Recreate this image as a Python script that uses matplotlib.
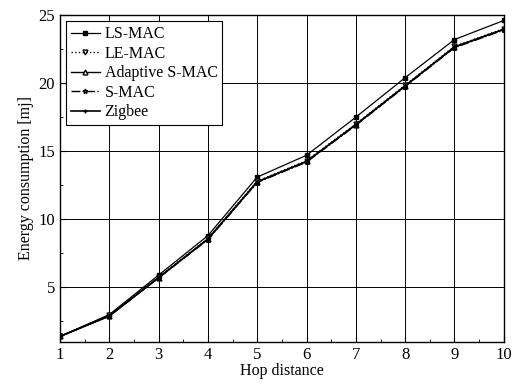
import numpy as np
import matplotlib.pyplot as plt
from matplotlib.ticker import MultipleLocator

plt.rcParams['font.family'] = ['Liberation Serif', 'DejaVu Serif']

hops = [1, 2, 3, 4, 5, 6, 7, 8, 9, 10]
ls_mac = [1.4, 3.0, 5.9, 8.8, 13.1, 14.7, 17.5, 20.4, 23.2, 24.6]
le_mac = [1.4, 2.95, 5.75, 8.6, 12.8, 14.3, 17.0, 19.85, 22.7, 24.0]
adaptive_smac = [1.4, 2.9, 5.7, 8.55, 12.75, 14.25, 16.95, 19.8, 22.65, 23.95]
s_mac = [1.4, 2.9, 5.7, 8.5, 12.7, 14.2, 16.9, 19.75, 22.6, 23.9]
zigbee = [1.4, 2.9, 5.72, 8.55, 12.75, 14.25, 16.95, 19.8, 22.65, 23.95]

fig = plt.figure(figsize=(5.12, 3.85), dpi=100)
ax = fig.add_axes([0.117, 0.112, 0.867, 0.849])

ax.plot(hops, ls_mac, '-', color='black', lw=0.9, marker='s', ms=3.5, mfc='black', label='LS-MAC')
ax.plot(hops, le_mac, ':', color='black', lw=1.0, marker='v', ms=3.5, mfc='white', label='LE-MAC')
ax.plot(hops, adaptive_smac, '-', color='black', lw=1.0, marker='^', ms=3.5, mfc='white', label='Adaptive S-MAC')
ax.plot(hops, s_mac, '-.', color='black', lw=1.0, marker='*', ms=3.5, mfc='white', label='S-MAC')
ax.plot(hops, zigbee, '-', color='black', lw=1.2, marker='+', ms=3.5, label='Zigbee')

ax.set_xlim(1, 10)
ax.set_ylim(1, 25)
ax.xaxis.set_major_locator(MultipleLocator(1))
ax.xaxis.set_minor_locator(MultipleLocator(0.5))
ax.yaxis.set_major_locator(MultipleLocator(5))
ax.yaxis.set_minor_locator(MultipleLocator(2.5))
ax.tick_params(which='both', direction='in', labelsize=12, color='black')
ax.tick_params(which='major', length=4)
ax.tick_params(which='minor', length=2)
ax.grid(True, which='major', color='black', lw=0.7)
for s in ax.spines.values():
    s.set_linewidth(1.0)

ax.set_xlabel('Hop distance', fontsize=11.5, labelpad=0)
ax.set_ylabel('Energy consumption [mj]', fontsize=11.5, labelpad=3)

leg = ax.legend(loc='upper left', fontsize=11.5, frameon=True, fancybox=False,
                edgecolor='black', framealpha=1, borderpad=0.3, labelspacing=0.22,
                handlelength=1.8, handletextpad=0.3, borderaxespad=0.4)
leg.get_frame().set_linewidth(0.8)

fig.savefig('out.png', dpi=100)
